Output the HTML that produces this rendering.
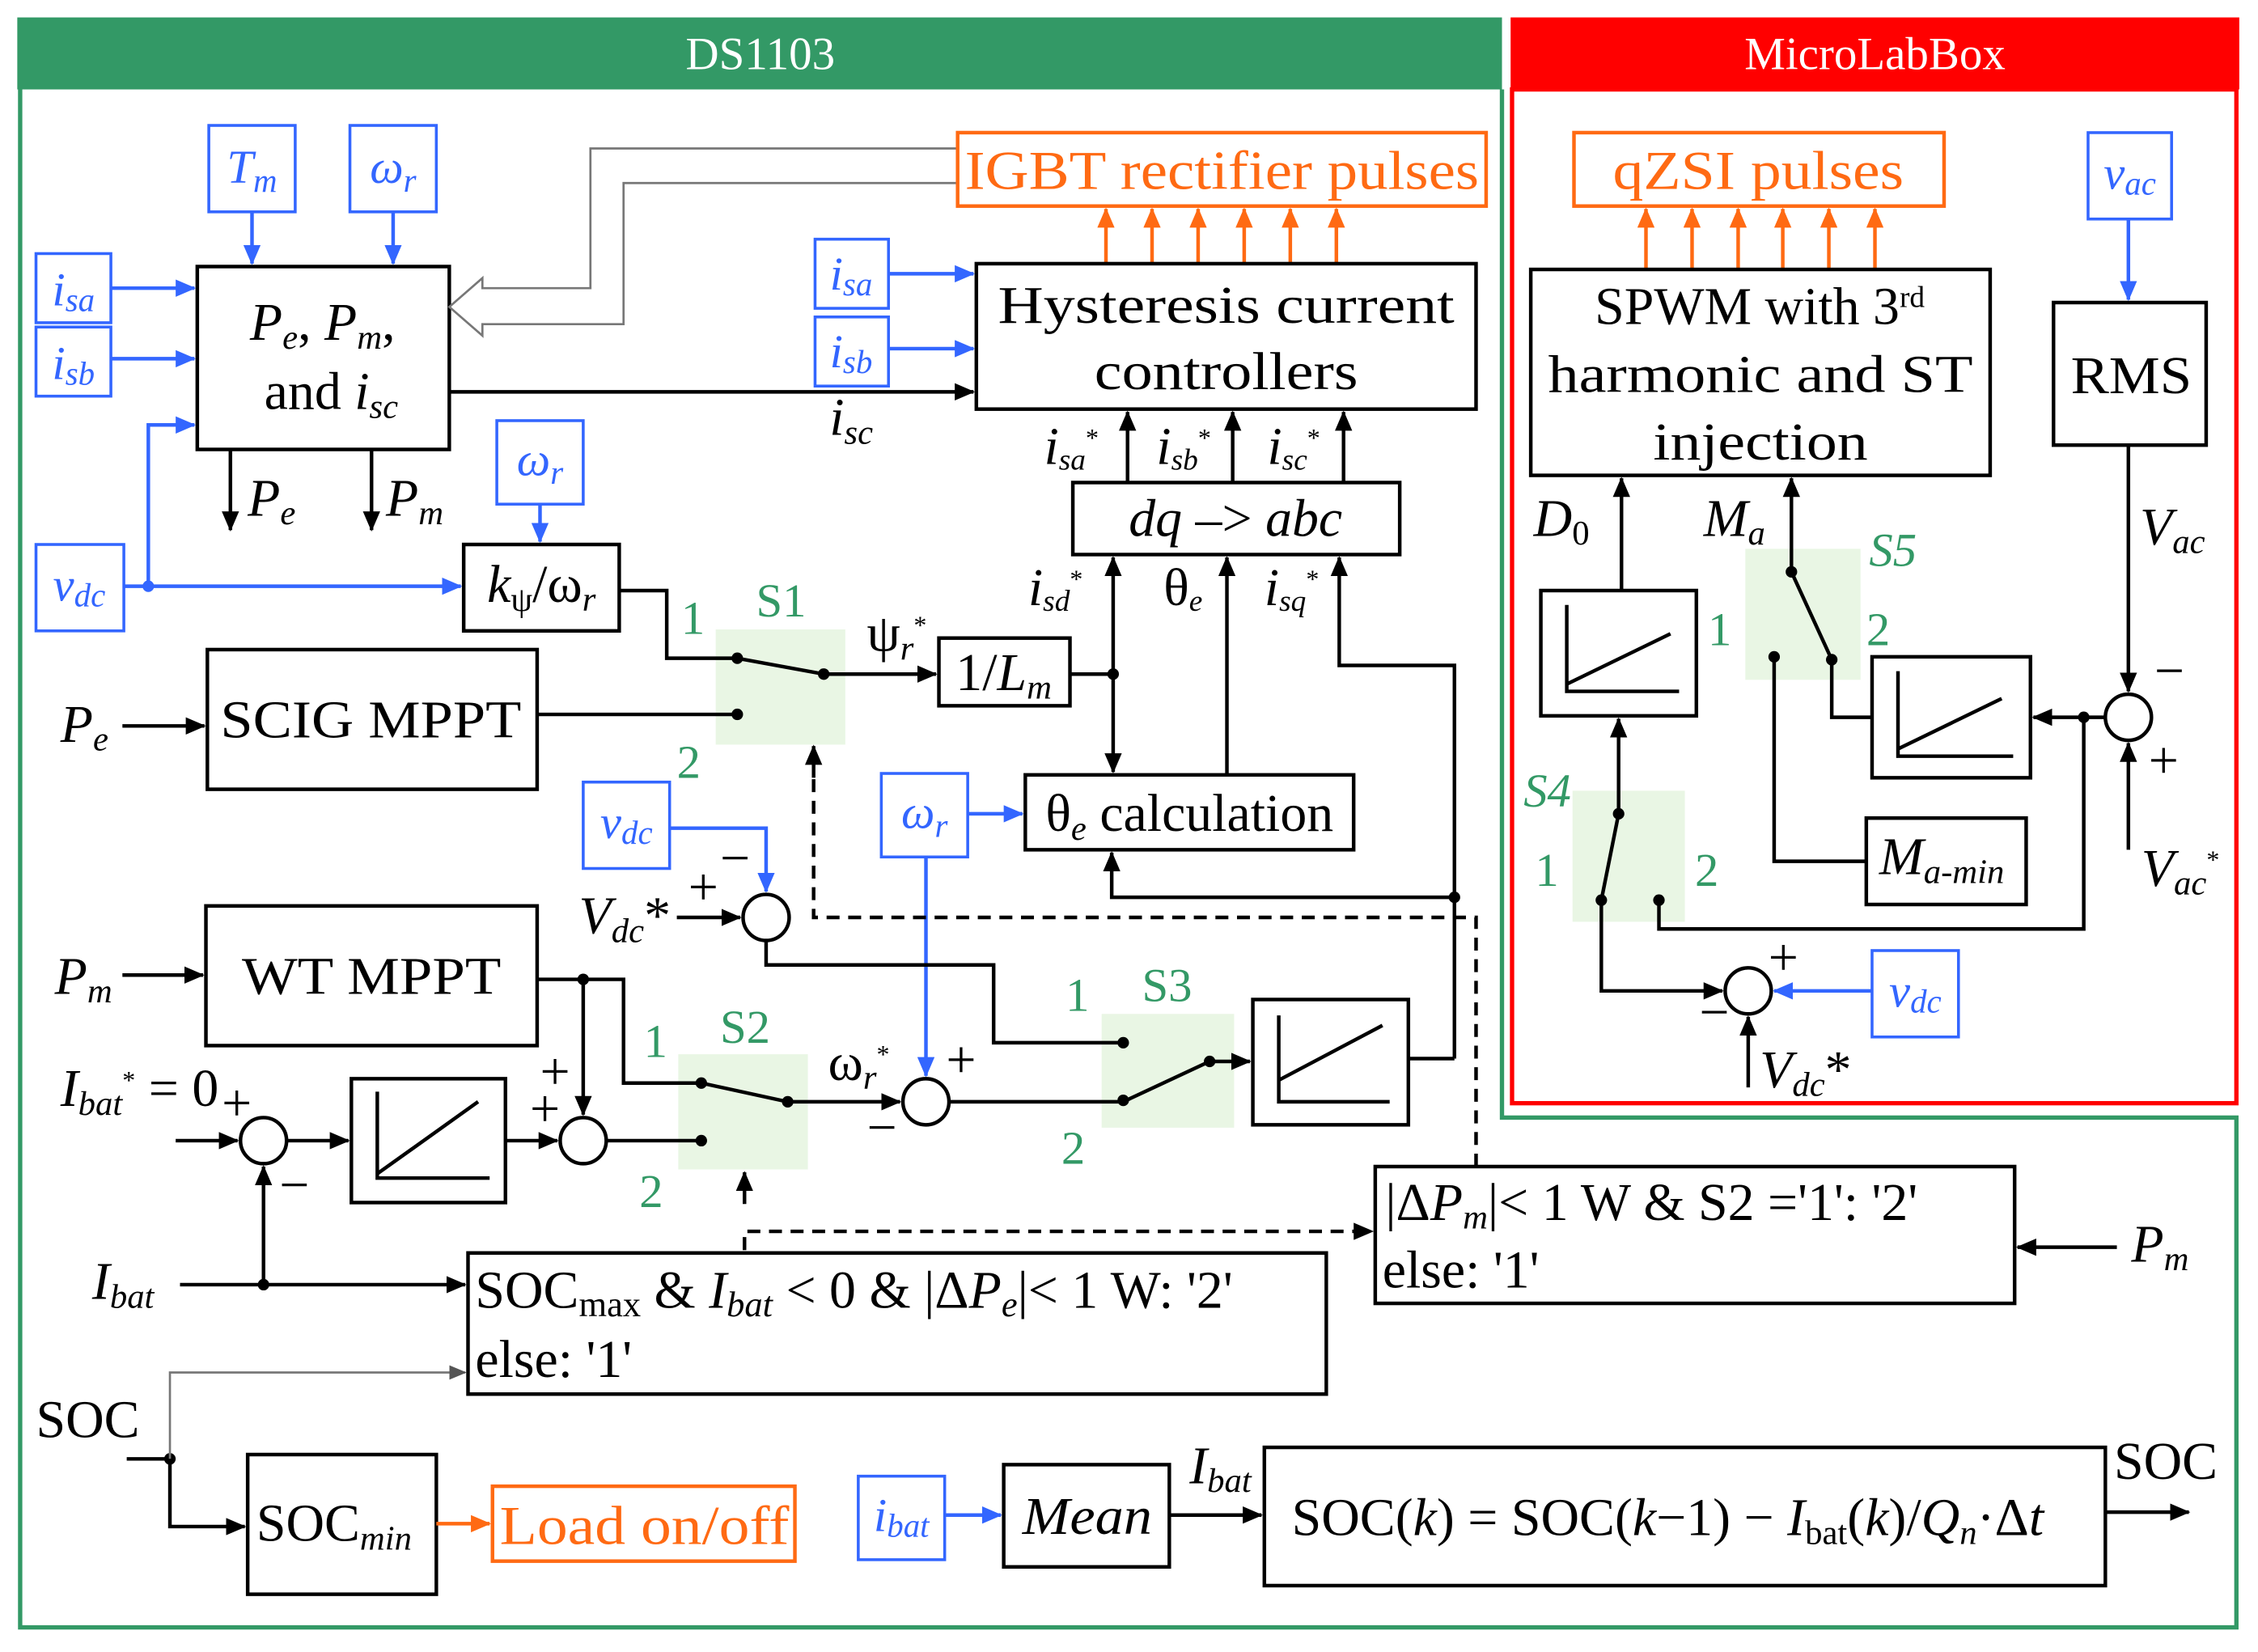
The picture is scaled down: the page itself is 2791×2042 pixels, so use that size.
<!DOCTYPE html>
<html><head><meta charset="utf-8"><style>
html,body{margin:0;padding:0;background:#fff;}
svg{display:block;}
text{font-family:"Liberation Serif",serif;}
.it{font-style:italic;}
</style></head><body>
<svg width="2791" height="2042" viewBox="0 0 1568 1147" xmlns="http://www.w3.org/2000/svg">
<defs>
<marker id="a" markerWidth="14" markerHeight="12" refX="13" refY="6" orient="auto" markerUnits="userSpaceOnUse" viewBox="0 0 14 12"><path d="M0,0L14,6L0,12z" fill="#000"/></marker>
<marker id="ab" markerWidth="14" markerHeight="12" refX="13" refY="6" orient="auto" markerUnits="userSpaceOnUse" viewBox="0 0 14 12"><path d="M0,0L14,6L0,12z" fill="#3366ff"/></marker>
<marker id="ao" markerWidth="14" markerHeight="12" refX="13" refY="6" orient="auto" markerUnits="userSpaceOnUse" viewBox="0 0 14 12"><path d="M0,0L14,6L0,12z" fill="#ff6a13"/></marker>
<marker id="ag" markerWidth="12" markerHeight="10" refX="11" refY="5" orient="auto" markerUnits="userSpaceOnUse" viewBox="0 0 12 10"><path d="M0,0L12,5L0,10z" fill="#555"/></marker>
</defs>
<style>
.k{stroke:#000;stroke-width:2.5;fill:none}
.b{stroke:#3366ff;stroke-width:2.5;fill:none}
.o{stroke:#ff6a13;stroke-width:2.5;fill:none}
.bx{stroke:#000;stroke-width:2.5;fill:#fff}
.bb{stroke:#3366ff;stroke-width:2;fill:#fff}
.ob{stroke:#ff6a13;stroke-width:2.5;fill:#fff}
.d{stroke:#000;stroke-width:2.5;fill:none;stroke-dasharray:9,6}
.sw{fill:#e9f6e4;stroke:none}
.t{font-size:37px}
.bt{font-size:33px;fill:#3366ff;font-style:italic}
.gt{font-size:33px;fill:#339966}
.ot{font-size:38px;fill:#ff6a13}
</style>
<!-- frames -->
<rect x="12" y="12" width="1031" height="50" fill="#339966"/>
<text x="528" y="48" text-anchor="middle" font-size="32" fill="#fff">DS1103</text>
<rect x="1049" y="12" width="506" height="50" fill="#ff0000"/>
<text x="1302" y="48" text-anchor="middle" font-size="32" fill="#fff">MicroLabBox</text>
<path d="M14,62 V1130 H1553 V776 H1043 V62" stroke="#339966" stroke-width="3" fill="none"/>
<rect x="1050" y="62" width="503" height="704" stroke="#ff0000" stroke-width="3" fill="none"/>

<rect class="sw" x="497" y="437" width="90" height="80"/>
<rect class="sw" x="471" y="732" width="90" height="80"/>
<rect class="sw" x="765" y="704" width="92" height="79"/>
<rect class="sw" x="1212" y="381" width="80" height="91"/>
<rect class="sw" x="1092" y="549" width="78" height="91"/>

<!-- Pe Pm block -->
<rect class="bx" x="137" y="185" width="175" height="127"/>
<text class="t it" x="224" y="236" text-anchor="middle">P<tspan font-size="24" dy="6">e</tspan><tspan dy="-6" font-style="normal">, </tspan>P<tspan font-size="24" dy="6">m</tspan><tspan dy="-6" font-style="normal">,</tspan></text>
<text class="t" x="230" y="284" text-anchor="middle">and <tspan class="it">i</tspan><tspan class="it" font-size="24" dy="6">sc</tspan></text>
<rect class="bb" x="145" y="87" width="60" height="60"/><text class="bt" x="175" y="127" text-anchor="middle">T<tspan font-size="23" dy="6">m</tspan></text>
<rect class="bb" x="243" y="87" width="60" height="60"/><text class="bt" x="273" y="127" text-anchor="middle" font-style="normal">ω<tspan font-size="23" dy="6" font-style="italic">r</tspan></text>
<path class="b" d="M175,147V183" marker-end="url(#ab)"/>
<path class="b" d="M273,147V183" marker-end="url(#ab)"/>
<rect class="bb" x="25" y="176" width="52" height="48"/><text class="bt" x="51" y="212" text-anchor="middle">i<tspan font-size="23" dy="4">sa</tspan></text>
<rect class="bb" x="25" y="227" width="52" height="48"/><text class="bt" x="51" y="263" text-anchor="middle">i<tspan font-size="23" dy="4">sb</tspan></text>
<path class="b" d="M77,200H135" marker-end="url(#ab)"/>
<path class="b" d="M77,249H135" marker-end="url(#ab)"/>
<rect class="bb" x="25" y="378" width="61" height="60"/><text class="bt" x="55" y="417" text-anchor="middle">v<tspan font-size="23" dy="4">dc</tspan></text>
<path class="b" d="M86,407H320" marker-end="url(#ab)"/>
<path class="b" d="M103,407V295H135" marker-end="url(#ab)"/>
<circle cx="103" cy="407" r="4" fill="#3366ff"/>
<path class="k" d="M160,312V368" marker-end="url(#a)"/>
<path class="k" d="M258,312V368" marker-end="url(#a)"/>
<text class="t it" x="172" y="358">P<tspan font-size="24" dy="6">e</tspan></text>
<text class="t it" x="268" y="358">P<tspan font-size="24" dy="6">m</tspan></text>

<path d="M665,103H410V200H335V193L312,213L335,233V225H433V127H665" stroke="#777" stroke-width="1.5" fill="none"/>

<!-- IGBT -->
<rect class="ob" x="665" y="92" width="367" height="51"/>
<text class="ot" x="670" y="131" textLength="357" lengthAdjust="spacingAndGlyphs">IGBT rectifier pulses</text>
<g class="o">
<path d="M768,183V145" marker-end="url(#ao)"/><path d="M800,183V145" marker-end="url(#ao)"/><path d="M832,183V145" marker-end="url(#ao)"/>
<path d="M864,183V145" marker-end="url(#ao)"/><path d="M896,183V145" marker-end="url(#ao)"/><path d="M928,183V145" marker-end="url(#ao)"/>
</g>
<rect class="bx" x="678" y="183" width="347" height="101"/>
<text class="t" x="693" y="224" textLength="317" lengthAdjust="spacingAndGlyphs">Hysteresis current</text>
<text class="t" x="760" y="270" textLength="183" lengthAdjust="spacingAndGlyphs">controllers</text>
<path class="k" d="M312,272H676" marker-end="url(#a)"/>
<text class="t it" x="576" y="302">i<tspan font-size="24" dy="6">sc</tspan></text>
<rect class="bb" x="566" y="166" width="51" height="48"/><text class="bt" x="591" y="201" text-anchor="middle">i<tspan font-size="23" dy="4">sa</tspan></text>
<rect class="bb" x="566" y="220" width="51" height="48"/><text class="bt" x="591" y="255" text-anchor="middle">i<tspan font-size="23" dy="4">sb</tspan></text>
<path class="b" d="M617,190H676" marker-end="url(#ab)"/>
<path class="b" d="M617,242H676" marker-end="url(#ab)"/>

<!-- dq abc -->
<rect class="bx" x="745" y="335" width="227" height="50"/>
<text class="t" x="858" y="372" text-anchor="middle"><tspan class="it">dq</tspan> –&gt; <tspan class="it">abc</tspan></text>
<path class="k" d="M783,335V286" marker-end="url(#a)"/>
<path class="k" d="M856,335V286" marker-end="url(#a)"/>
<path class="k" d="M933,335V286" marker-end="url(#a)"/>
<text class="t it" x="725" y="322" font-size="32">i<tspan font-size="21" dy="4">sa</tspan><tspan font-size="18" dy="-16" font-style="normal">*</tspan></text>
<text class="t it" x="803" y="322" font-size="32">i<tspan font-size="21" dy="4">sb</tspan><tspan font-size="18" dy="-16" font-style="normal">*</tspan></text>
<text class="t it" x="880" y="322" font-size="32">i<tspan font-size="21" dy="4">sc</tspan><tspan font-size="18" dy="-16" font-style="normal">*</tspan></text>
<text class="t it" x="714" y="420" font-size="32">i<tspan font-size="21" dy="4">sd</tspan><tspan font-size="18" dy="-16" font-style="normal">*</tspan></text>
<text class="t" x="808" y="420" font-size="32">θ<tspan class="it" font-size="21" dy="4">e</tspan></text>
<text class="t it" x="878" y="420" font-size="32">i<tspan font-size="21" dy="4">sq</tspan><tspan font-size="18" dy="-16" font-style="normal">*</tspan></text>

<!-- kpsi -->
<rect class="bb" x="345" y="292" width="60" height="58"/><text class="bt" x="375" y="330" text-anchor="middle" font-style="normal">ω<tspan font-size="23" dy="6" font-style="italic">r</tspan></text>
<path class="b" d="M375,350V376" marker-end="url(#ab)"/>
<rect class="bx" x="322" y="378" width="108" height="60"/>
<text class="t" x="376" y="418" text-anchor="middle"><tspan class="it">k</tspan><tspan font-size="24" dy="6">ψ</tspan><tspan dy="-6">/ω</tspan><tspan class="it" font-size="24" dy="6">r</tspan></text>
<path class="k" d="M430,410H463V457H512"/>
<text class="gt" x="473" y="440">1</text><text class="gt" x="525" y="428">S1</text>
<path class="k" d="M512,457L572,468H650" marker-end="url(#a)"/>
<circle cx="512" cy="457" r="4"/><circle cx="572" cy="468" r="4"/><circle cx="512" cy="496" r="4"/>
<text class="t" x="602" y="452">ψ<tspan class="it" font-size="24" dy="6">r</tspan><tspan font-size="18" dy="-18">*</tspan></text>
<rect class="bx" x="144" y="451" width="229" height="97"/>
<text class="t" x="153" y="512" textLength="209" lengthAdjust="spacingAndGlyphs">SCIG MPPT</text>
<path class="k" d="M85,504H142" marker-end="url(#a)"/>
<text class="t it" x="42" y="515">P<tspan font-size="24" dy="6">e</tspan></text>
<path class="k" d="M373,496H512"/>
<text class="gt" x="470" y="540">2</text>
<rect class="bx" x="652" y="443" width="91" height="47"/>
<text class="t" x="697" y="479" text-anchor="middle">1/<tspan class="it">L</tspan><tspan class="it" font-size="24" dy="6">m</tspan></text>
<path class="k" d="M743,468H773"/><circle cx="773" cy="468" r="4"/>
<path class="k" d="M773,468V387" marker-end="url(#a)"/>
<path class="k" d="M773,468V536" marker-end="url(#a)"/>
<rect class="bx" x="712" y="538" width="228" height="52"/>
<text class="t" x="826" y="577" text-anchor="middle">θ<tspan class="it" font-size="24" dy="6">e</tspan><tspan dy="-6"> calculation</tspan></text>
<path class="k" d="M852,538V387" marker-end="url(#a)"/>
<rect class="bb" x="612" y="537" width="60" height="58"/><text class="bt" x="642" y="575" text-anchor="middle" font-style="normal">ω<tspan font-size="23" dy="6" font-style="italic">r</tspan></text>
<path class="b" d="M672,565H710" marker-end="url(#ab)"/>
<path class="b" d="M643,595V747" marker-end="url(#ab)"/>
<path class="k" d="M1010,735V462H930V387" marker-end="url(#a)"/>
<path class="k" d="M1010,623H772V592" marker-end="url(#a)"/>
<circle cx="1010" cy="623" r="4"/>

<!-- vdc loop -->
<rect class="bb" x="405" y="543" width="60" height="60"/><text class="bt" x="435" y="582" text-anchor="middle">v<tspan font-size="23" dy="4">dc</tspan></text>
<path class="b" d="M465,575H532V619" marker-end="url(#ab)"/>
<circle class="k" cx="532" cy="637" r="16" fill="#fff"/>
<text class="t" x="500" y="608" font-size="28">−</text><text class="t" x="478" y="628" font-size="28">+</text>
<text class="t it" x="402" y="648">V<tspan font-size="24" dy="6">dc</tspan><tspan dy="-6" font-style="normal">*</tspan></text>
<path class="k" d="M470,637H514" marker-end="url(#a)"/>
<path class="k" d="M532,653V670H690V724H780"/>
<circle cx="780" cy="724" r="4"/><circle cx="780" cy="764" r="4"/><circle cx="840" cy="737" r="4"/>
<text class="gt" x="740" y="702">1</text><text class="gt" x="793" y="695">S3</text><text class="gt" x="737" y="808">2</text>
<path class="k" d="M659,765H780L840,737H868" marker-end="url(#a)"/>
<rect class="bx" x="870" y="694" width="108" height="87"/>
<path class="k" d="M888,705V765H965M888,750L960,712"/>
<path class="k" d="M978,735H1010"/>

<!-- WT MPPT -->
<rect class="bx" x="143" y="629" width="230" height="97"/>
<text class="t" x="168" y="690" textLength="180" lengthAdjust="spacingAndGlyphs">WT MPPT</text>
<path class="k" d="M85,677H141" marker-end="url(#a)"/>
<text class="t it" x="38" y="690">P<tspan font-size="24" dy="6">m</tspan></text>
<path class="k" d="M373,680H433V752H487"/>
<circle cx="405" cy="680" r="4"/>
<path class="k" d="M405,680V774" marker-end="url(#a)"/>
<circle cx="487" cy="752" r="4"/><circle cx="547" cy="765" r="4"/><circle cx="487" cy="792" r="4"/>
<path class="k" d="M487,752L547,765H625" marker-end="url(#a)"/>
<text class="gt" x="447" y="734">1</text><text class="gt" x="500" y="724">S2</text><text class="gt" x="444" y="838">2</text>
<circle class="k" cx="643" cy="765" r="16" fill="#fff"/>
<text class="t" x="575" y="750">ω<tspan class="it" font-size="24" dy="6">r</tspan><tspan font-size="18" dy="-18">*</tspan></text>
<text class="t" x="657" y="748" font-size="28">+</text><text class="t" x="602" y="795" font-size="28">−</text>
<circle class="k" cx="405" cy="792" r="16" fill="#fff"/>
<path class="k" d="M421,792H487"/>
<text class="t" x="375" y="756" font-size="28">+</text><text class="t" x="368" y="782" font-size="28">+</text>
<text class="t" x="42" y="768"><tspan class="it">I</tspan><tspan class="it" font-size="24" dy="6">bat</tspan><tspan font-size="18" dy="-18">*</tspan><tspan dy="12"> = 0</tspan></text>
<circle class="k" cx="183" cy="792" r="16" fill="#fff"/>
<path class="k" d="M122,792H165" marker-end="url(#a)"/>
<text class="t" x="154" y="778" font-size="28">+</text><text class="t" x="194" y="835" font-size="28">−</text>
<rect class="bx" x="244" y="749" width="107" height="86"/>
<path class="k" d="M262,758V818H340M262,815L332,765"/>
<path class="k" d="M199,792H242" marker-end="url(#a)"/>
<path class="k" d="M351,792H387" marker-end="url(#a)"/>
<path class="k" d="M125,892H323" marker-end="url(#a)"/>
<circle cx="183" cy="892" r="4"/>
<path class="k" d="M183,892V810" marker-end="url(#a)"/>
<text class="t it" x="64" y="902">I<tspan font-size="24" dy="6">bat</tspan></text>

<rect class="bx" x="325" y="870" width="596" height="98"/>
<text class="t" x="330" y="908" font-size="39">SOC<tspan font-size="25" dy="6">max</tspan><tspan dy="-6"> &amp; </tspan><tspan class="it">I</tspan><tspan class="it" font-size="25" dy="6">bat</tspan><tspan dy="-6"> &lt; 0 &amp; |Δ</tspan><tspan class="it">P</tspan><tspan class="it" font-size="25" dy="6">e</tspan><tspan dy="-6">|&lt; 1 W: '2'</tspan></text>
<text class="t" x="330" y="956" font-size="39">else: '1'</text>

<!-- dashed -->
<path class="d" d="M517,868V855H953" marker-end="url(#a)"/>
<path class="k" d="M517,836V814" marker-end="url(#a)"/>
<path class="d" d="M1025,810V637H565V540"/>
<path class="k" d="M565,540V518" marker-end="url(#a)"/>

<rect class="bx" x="955" y="810" width="444" height="95"/>
<text class="t" x="962" y="847" font-size="38">|Δ<tspan class="it">P</tspan><tspan class="it" font-size="24" dy="6">m</tspan><tspan dy="-6">|&lt; 1 W &amp; S2 ='1': '2'</tspan></text>
<text class="t" x="960" y="894" font-size="38">else: '1'</text>
<path class="k" d="M1470,866H1401" marker-end="url(#a)"/>
<text class="t it" x="1480" y="876">P<tspan font-size="24" dy="6">m</tspan></text>

<!-- SOC -->
<text class="t" x="25" y="998">SOC</text>
<path class="k" d="M88,1013H118"/><circle cx="118" cy="1013" r="4"/>
<path d="M118,1013V953H323" stroke="#777" stroke-width="1.5" fill="none" marker-end="url(#ag)"/>
<path class="k" d="M118,1013V1060H170" marker-end="url(#a)"/>
<rect class="bx" x="172" y="1010" width="131" height="97"/>
<text class="t" x="178" y="1070">SOC<tspan class="it" font-size="24" dy="6">min</tspan></text>
<path class="o" d="M303,1058H340" marker-end="url(#ao)"/>
<rect class="ob" x="342" y="1032" width="210" height="52"/>
<text class="ot" x="347" y="1072" textLength="201" lengthAdjust="spacingAndGlyphs">Load on/off</text>
<rect class="bb" x="596" y="1025" width="60" height="58"/><text class="bt" x="626" y="1063" text-anchor="middle">i<tspan font-size="23" dy="4">bat</tspan></text>
<path class="b" d="M656,1052H695" marker-end="url(#ab)"/>
<rect class="bx" x="697" y="1017" width="115" height="71"/>
<text class="t it" x="710" y="1065" textLength="90" lengthAdjust="spacingAndGlyphs">Mean</text>
<path class="k" d="M812,1052H876" marker-end="url(#a)"/>
<text class="t it" x="826" y="1030">I<tspan font-size="24" dy="6">bat</tspan></text>
<rect class="bx" x="878" y="1005" width="584" height="96"/>
<text class="t" x="897" y="1066" font-size="38">SOC(<tspan class="it">k</tspan>) = SOC(<tspan class="it">k</tspan>−1) − <tspan class="it">I</tspan><tspan font-size="24" dy="6">bat</tspan><tspan dy="-6">(</tspan><tspan class="it">k</tspan>)/<tspan class="it">Q</tspan><tspan class="it" font-size="24" dy="6">n</tspan><tspan dy="-6">·Δ</tspan><tspan class="it">t</tspan></text>
<path class="k" d="M1462,1050H1520" marker-end="url(#a)"/>
<text class="t" x="1468" y="1027">SOC</text>

<!-- MicroLabBox -->
<rect class="ob" x="1093" y="92" width="257" height="51"/>
<text class="ot" x="1120" y="131" textLength="202" lengthAdjust="spacingAndGlyphs">qZSI pulses</text>
<g class="o">
<path d="M1143,187V145" marker-end="url(#ao)"/><path d="M1175,187V145" marker-end="url(#ao)"/><path d="M1207,187V145" marker-end="url(#ao)"/>
<path d="M1238,187V145" marker-end="url(#ao)"/><path d="M1270,187V145" marker-end="url(#ao)"/><path d="M1302,187V145" marker-end="url(#ao)"/>
</g>
<rect class="bx" x="1063" y="187" width="319" height="143"/>
<text class="t" x="1222" y="225" text-anchor="middle">SPWM with 3<tspan font-size="21" dy="-12">rd</tspan></text>
<text class="t" x="1075" y="272" textLength="295" lengthAdjust="spacingAndGlyphs">harmonic and ST</text>
<text class="t" x="1148" y="319" textLength="149" lengthAdjust="spacingAndGlyphs">injection</text>
<rect class="bb" x="1450" y="92" width="58" height="60"/><text class="bt" x="1479" y="131" text-anchor="middle">v<tspan font-size="23" dy="4">ac</tspan></text>
<path class="b" d="M1478,152V208" marker-end="url(#ab)"/>
<rect class="bx" x="1426" y="210" width="106" height="99"/>
<text class="t" x="1438" y="273" textLength="84" lengthAdjust="spacingAndGlyphs">RMS</text>
<path class="k" d="M1478,309V480" marker-end="url(#a)"/>
<text class="t it" x="1486" y="378">V<tspan font-size="24" dy="6">ac</tspan></text>
<circle class="k" cx="1478" cy="498" r="16" fill="#fff"/>
<text class="t" x="1496" y="478" font-size="28">−</text><text class="t" x="1492" y="540" font-size="28">+</text>
<path class="k" d="M1478,590V516" marker-end="url(#a)"/>
<text class="t it" x="1487" y="615">V<tspan font-size="24" dy="6">ac</tspan><tspan font-size="18" dy="-18" font-style="normal">*</tspan></text>
<path class="k" d="M1462,498H1412" marker-end="url(#a)"/>
<circle cx="1447" cy="498" r="4"/>
<path class="k" d="M1447,498V645H1152V625"/>
<rect class="bx" x="1300" y="456" width="110" height="84"/>
<path class="k" d="M1318,466V525H1398M1318,520L1390,485"/>
<path class="k" d="M1300,498H1272V458"/>
<circle cx="1272" cy="458" r="4"/><circle cx="1232" cy="456" r="4"/><circle cx="1244" cy="397" r="4"/>
<path class="k" d="M1272,458L1244,397V332" marker-end="url(#a)"/>
<path class="k" d="M1232,456V598H1296"/>
<text class="t it" x="1183" y="372">M<tspan font-size="24" dy="6">a</tspan></text>
<text class="gt" x="1298" y="393" font-style="italic">S5</text><text class="gt" x="1186" y="448">1</text><text class="gt" x="1296" y="448">2</text>
<rect class="bx" x="1296" y="568" width="111" height="60"/>
<text class="t it" x="1305" y="607">M<tspan font-size="24" dy="6">a-min</tspan></text>
<rect class="bx" x="1070" y="410" width="108" height="87"/>
<path class="k" d="M1088,420V480H1166M1088,475L1160,440"/>
<path class="k" d="M1126,410V332" marker-end="url(#a)"/>
<text class="t it" x="1065" y="372">D<tspan font-size="24" dy="6" font-style="normal">0</tspan></text>
<path class="k" d="M1112,625L1124,565V499" marker-end="url(#a)"/>
<circle cx="1124" cy="565" r="4"/><circle cx="1112" cy="625" r="4"/><circle cx="1152" cy="625" r="4"/>
<text class="gt" x="1058" y="560" font-style="italic">S4</text><text class="gt" x="1066" y="615">1</text><text class="gt" x="1177" y="615">2</text>
<path class="k" d="M1112,625V688H1196" marker-end="url(#a)"/>
<circle class="k" cx="1214" cy="688" r="16" fill="#fff"/>
<rect class="bb" x="1300" y="660" width="60" height="60"/><text class="bt" x="1330" y="699" text-anchor="middle">v<tspan font-size="23" dy="4">dc</tspan></text>
<path class="b" d="M1300,688H1232" marker-end="url(#ab)"/>
<text class="t" x="1228" y="677" font-size="28">+</text><text class="t" x="1180" y="715" font-size="28">−</text>
<path class="k" d="M1214,755V706" marker-end="url(#a)"/>
<text class="t it" x="1222" y="755">V<tspan font-size="24" dy="6">dc</tspan><tspan dy="-6" font-style="normal">*</tspan></text>
</svg>
</body></html>
